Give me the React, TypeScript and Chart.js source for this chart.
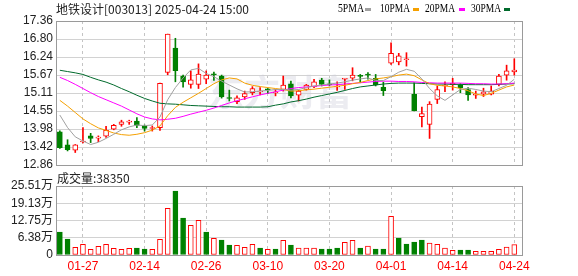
import React, { useEffect, useRef } from 'react';
import { Chart, registerables } from 'chart.js';

Chart.register(...registerables);

// ---------------- data ----------------
const stockTitle = '地铁设计[003013] 2025-04-24 15:00';

const dates = [
  '01-22', '01-23', '01-24', '01-27', '02-05', '02-06', '02-07', '02-10', '02-11', '02-12',
  '02-13', '02-14', '02-17', '02-18', '02-19', '02-20', '02-21', '02-24', '02-25', '02-26',
  '02-27', '02-28', '03-03', '03-04', '03-05', '03-06', '03-07', '03-10', '03-11', '03-12',
  '03-13', '03-14', '03-17', '03-18', '03-19', '03-20', '03-21', '03-24', '03-25', '03-26',
  '03-27', '03-28', '03-31', '04-01', '04-02', '04-03', '04-07', '04-08', '04-09', '04-10',
  '04-11', '04-14', '04-15', '04-16', '04-17', '04-18', '04-21', '04-22', '04-23', '04-24',
];

const xTickDates = ['01-27', '02-14', '02-26', '03-10', '03-20', '04-01', '04-14', '04-24'];

const opens = [
  13.90, 13.49, 13.32, 13.58, 13.77, 13.70, 13.76, 13.98, 14.13, 14.20,
  14.23, 14.08, 14.00, 14.03, 15.75, 16.51, 15.64, 15.38, 15.38, 15.54,
  15.71, 15.64, 14.97, 14.84, 14.99, 15.12, 15.14, 15.24, 15.11, 15.22,
  15.40, 15.04, 15.22, 15.30, 15.51, 15.40, 15.30, 15.54, 15.57, 15.66,
  15.70, 15.57, 15.29, 16.04, 16.08, 16.15, 15.07, 14.37, 14.13, 14.91,
  15.33, 15.37, 15.36, 15.22, 15.04, 15.07, 15.07, 15.38, 15.67, 15.77,
];
const highs = [
  13.93, 13.65, 13.50, 14.03, 13.85, 13.77, 14.07, 14.13, 14.26, 14.26,
  14.34, 14.11, 14.08, 15.42, 16.95, 16.82, 15.67, 15.80, 16.02, 15.80,
  15.76, 15.67, 15.20, 15.02, 15.17, 15.31, 15.28, 15.25, 15.22, 15.64,
  15.48, 15.20, 15.38, 15.54, 15.57, 15.52, 15.46, 15.57, 15.90, 15.69,
  15.75, 15.69, 15.45, 16.68, 16.35, 16.37, 15.43, 14.67, 14.84, 15.33,
  15.46, 15.57, 15.40, 15.28, 15.17, 15.26, 15.33, 15.69, 15.98, 16.18,
];
const lows = [
  13.38, 13.30, 13.25, 13.55, 13.56, 13.59, 13.72, 13.96, 14.07, 14.13,
  14.03, 13.92, 13.92, 13.94, 15.68, 15.46, 15.29, 15.26, 15.25, 15.40,
  15.50, 14.95, 14.86, 14.78, 14.91, 15.05, 15.05, 15.09, 15.02, 15.17,
  14.96, 14.86, 15.20, 15.28, 15.33, 15.33, 15.19, 15.22, 15.49, 15.43,
  15.54, 15.33, 15.03, 16.00, 15.99, 15.95, 14.55, 14.05, 13.69, 14.78,
  15.15, 15.20, 15.12, 14.88, 14.94, 15.00, 15.05, 15.33, 15.51, 15.67,
];
const closes = [
  13.40, 13.34, 13.49, 13.61, 13.69, 13.73, 13.94, 14.10, 14.21, 14.23,
  14.10, 14.00, 14.03, 15.41, 16.95, 15.81, 15.46, 15.52, 15.70, 15.67,
  15.68, 14.99, 14.94, 14.96, 15.09, 15.25, 15.17, 15.21, 15.14, 15.36,
  15.02, 15.17, 15.36, 15.46, 15.38, 15.36, 15.33, 15.57, 15.67, 15.63,
  15.67, 15.36, 15.18, 16.35, 16.27, 16.18, 14.56, 14.47, 14.76, 15.22,
  15.36, 15.41, 15.28, 15.05, 15.07, 15.15, 15.17, 15.64, 15.80, 15.83,
];

const ma5 = [
  14.42, 14.03, 13.74, 13.61, 13.50, 13.57, 13.69, 13.82, 13.96, 14.05,
  14.11, 14.09, 14.11, 14.36, 14.90, 15.28, 15.58, 15.83, 15.88, 15.72,
  15.62, 15.48, 15.36, 15.24, 15.14, 15.15, 15.17, 15.19, 15.22, 15.22,
  15.20, 15.22, 15.28, 15.33, 15.36, 15.39, 15.42, 15.46, 15.51, 15.55,
  15.58, 15.50, 15.50, 15.62, 15.76, 15.85, 15.79, 15.55, 15.25, 15.02,
  14.88, 15.05, 15.22, 15.26, 15.22, 15.17, 15.15, 15.25, 15.35, 15.54,
];
const ma10 = [
  14.88, 14.70, 14.50, 14.30, 14.15, 14.02, 13.94, 13.86, 13.81, 13.79,
  13.82, 13.87, 13.95, 14.08, 14.40, 14.66, 14.82, 14.96, 15.10, 15.25,
  15.40, 15.52, 15.58, 15.55, 15.42, 15.35, 15.31, 15.28, 15.25, 15.22,
  15.17, 15.18, 15.21, 15.23, 15.26, 15.29, 15.32, 15.35, 15.40, 15.44,
  15.50, 15.55, 15.58, 15.62, 15.67, 15.70, 15.65, 15.52, 15.40, 15.35,
  15.33, 15.30, 15.25, 15.18, 15.08, 15.03, 15.10, 15.20, 15.30, 15.36,
];
const ma20 = [
  15.60, 15.50, 15.38, 15.25, 15.12, 15.00, 14.90, 14.80, 14.70, 14.58,
  14.46, 14.36, 14.30, 14.27, 14.29, 14.32, 14.38, 14.45, 14.51, 14.57,
  14.64, 14.72, 14.80, 14.87, 14.93, 14.99, 15.05, 15.10, 15.15, 15.20,
  15.25, 15.28, 15.30, 15.32, 15.34, 15.36, 15.37, 15.39, 15.41, 15.43,
  15.45, 15.47, 15.48, 15.48, 15.47, 15.47, 15.46, 15.44, 15.43, 15.42,
  15.42, 15.42, 15.42, 15.41, 15.40, 15.40, 15.39, 15.39, 15.40, 15.42,
];
const ma30 = [
  15.82, 15.78, 15.74, 15.69, 15.60, 15.52, 15.45, 15.36, 15.25, 15.15,
  15.04, 14.94, 14.86, 14.79, 14.77, 14.76, 14.74, 14.72, 14.71, 14.70,
  14.69, 14.68, 14.68, 14.67, 14.67, 14.67, 14.67, 14.68, 14.73, 14.77,
  14.83, 14.87, 14.92, 14.98, 15.03, 15.08, 15.13, 15.19, 15.25, 15.30,
  15.33, 15.36, 15.39, 15.41, 15.42, 15.42, 15.42, 15.41, 15.40, 15.39,
  15.39, 15.38, 15.38, 15.37, 15.37, 15.37, 15.37, 15.38, 15.39, 15.40,
];

// volume in 万 (10,000 shares)
const volumes = [
  8.50, 5.92, 2.83, 3.94, 2.10, 3.20, 3.94, 2.46, 2.10, 2.46,
  2.59, 2.22, 2.10, 5.79, 17.25, 23.66, 13.68, 10.97, 12.82, 8.50,
  6.16, 5.55, 3.70, 3.57, 2.83, 3.94, 2.59, 2.10, 2.22, 5.42,
  3.70, 2.59, 2.59, 2.59, 2.22, 2.22, 2.59, 4.68, 5.42, 2.59,
  3.33, 2.22, 2.22, 14.30, 6.28, 4.07, 4.81, 5.55, 4.44, 3.94,
  2.59, 1.73, 1.85, 1.85, 1.36, 1.36, 1.36, 2.10, 2.96, 3.835,
];

const priceTickLabels = ['12.86', '13.42', '13.98', '14.55', '15.11', '15.67', '16.24', '16.80', '17.36'];
const priceMin = 12.86;
const priceMax = 17.36;
const volumeTickLabels = ['0', '6.38万', '12.75万', '19.13万', '25.51万'];
const volumeMax = 25.51;

const maNames = ['5PMA', '10PMA', '20PMA', '30PMA'];

// ---------------- styles ----------------
const UP = '#ff0000';
const DOWN = '#008000';
const MA_COLORS = ['#a0a0a0', '#f5a000', '#ff00ff', '#006a2c'];
const BORDER = '#9a9a9a';
const GRID = '#d2d2d2';
const VGRID = '#c4c4c4';
const TEXT = '#222222';
const SANS = '"Liberation Sans", Arial, "Noto Sans CJK SC", sans-serif';
const CJK = '"Noto Sans CJK SC", "Liberation Sans", sans-serif';

const candleUp = (i: number) => closes[i] >= opens[i];
const volUp = (i: number) => (i === 0 ? closes[0] >= opens[0] : closes[i] >= closes[i - 1]);
const xTickIndex = xTickDates.map((d) => dates.indexOf(d));

function xScale(showLabels: boolean): any {
  return {
    type: 'linear',
    min: -0.5,
    max: dates.length,
    offset: false,
    bounds: 'data',
    afterBuildTicks: (s: any) => {
      s.ticks = xTickIndex.map((v) => ({ value: v }));
    },
    afterFit: (s: any) => {
      s.height = showLabels ? 21 : 0;
    },
    grid: { color: VGRID, lineWidth: 1, drawTicks: false, offset: false },
    border: { display: false, dash: [3, 3] },
    ticks: showLabels
      ? {
          display: true,
          autoSkip: false,
          maxRotation: 0,
          padding: 4,
          color: UP,
          font: { family: SANS, size: 12 },
          callback: (v: number) => dates[Math.round(v)],
        }
      : { display: false },
  };
}

function yScale(min: number, max: number, labels: string[]): any {
  return {
    type: 'linear',
    min,
    max,
    bounds: 'data',
    beginAtZero: false,
    afterBuildTicks: (s: any) => {
      const n = labels.length - 1;
      s.ticks = labels.map((_, k) => ({ value: min + (k * (max - min)) / n }));
    },
    afterFit: (s: any) => {
      s.width = 56;
    },
    grid: { color: GRID, lineWidth: 1, drawTicks: false },
    border: { display: false },
    ticks: {
      autoSkip: false,
      padding: 3,
      color: TEXT,
      font: { family: SANS, size: 12 },
      callback: (_v: number, i: number) => labels[i],
    },
  };
}

const frame = (chart: any) => {
  const { ctx, chartArea: a } = chart;
  ctx.save();
  ctx.strokeStyle = BORDER;
  ctx.lineWidth = 1;
  ctx.strokeRect(Math.round(a.left) + 0.5, Math.round(a.top) + 0.5, Math.round(a.right - a.left), Math.round(a.bottom - a.top));
  ctx.restore();
};

const pricePlugin = {
  id: 'pricePlugin',
  beforeDatasetsDraw(chart: any) {
    const { ctx } = chart;
    ctx.save();
    ctx.fillStyle = 'rgba(205,205,218,0.38)';
    ctx.font = `bold 36px ${CJK}`;
    ctx.textBaseline = 'alphabetic';
    ctx.textAlign = 'left';
    ctx.fillText('东方财富', 208, 106, 170);
    ctx.restore();
  },
  afterDraw(chart: any) {
    const { ctx } = chart;
    frame(chart);
    ctx.save();
    ctx.fillStyle = TEXT;
    ctx.textBaseline = 'middle';
    ctx.textAlign = 'left';
    ctx.font = `12px ${CJK}`;
    ctx.fillText(stockTitle, 56, 9);
    // legend
    const textX = [338, 380, 425, 471];
    const textW = [26, 30, 30, 30];
    const swX = [365, 413, 459, 504];
    ctx.font = '13px "Liberation Serif", serif';
    maNames.forEach((name, k) => {
      ctx.fillStyle = '#000';
      ctx.fillText(name, textX[k], 9, textW[k]);
      ctx.fillStyle = MA_COLORS[k];
      ctx.fillRect(swX[k], 8, 6, 3);
    });
    ctx.restore();
  },
};

const volumePlugin = {
  id: 'volumePlugin',
  afterDraw(chart: any) {
    const { ctx } = chart;
    frame(chart);
    ctx.save();
    ctx.fillStyle = TEXT;
    ctx.textBaseline = 'middle';
    ctx.textAlign = 'left';
    ctx.font = `12px ${CJK}`;
    const last = Math.round(volumes[volumes.length - 1] * 10000);
    ctx.fillText('成交量:' + last, 57, 12);
    ctx.restore();
  },
};

function priceConfig(): any {
  const lineSet = (data: number[], k: number) => ({
    type: 'line',
    label: maNames[k],
    data: data.map((y, x) => ({ x, y })),
    borderColor: MA_COLORS[k],
    borderWidth: 1,
    pointRadius: 0,
    tension: 0,
    fill: false,
    order: 0,
  });
  return {
    type: 'bar',
    data: {
      datasets: [
        lineSet(ma5, 0),
        lineSet(ma10, 1),
        lineSet(ma20, 2),
        lineSet(ma30, 3),
        {
          type: 'bar',
          label: 'body',
          data: opens.map((o, i) => ({ x: i, y: [o, closes[i]] })),
          backgroundColor: opens.map((_, i) => (candleUp(i) ? '#ffffff' : DOWN)),
          borderColor: opens.map((_, i) => (candleUp(i) ? UP : DOWN)),
          borderWidth: 1,
          borderSkipped: false,
          grouped: false,
          barPercentage: 1,
          categoryPercentage: 1,
          maxBarThickness: 5,
          order: 1,
        },
        {
          type: 'bar',
          label: 'wick',
          data: lows.map((l, i) => ({ x: i, y: [l, highs[i]] })),
          backgroundColor: opens.map((_, i) => (candleUp(i) ? UP : DOWN)),
          borderWidth: 0,
          grouped: false,
          barPercentage: 1,
          categoryPercentage: 1,
          maxBarThickness: 1,
          order: 2,
        },
      ],
    },
    options: {
      responsive: false,
      maintainAspectRatio: false,
      animation: false,
      events: [],
      layout: { padding: { left: 0, right: 56, top: 21, bottom: 11 } },
      plugins: { legend: { display: false }, tooltip: { enabled: false }, title: { display: false } },
      scales: {
        x: xScale(false),
        y: yScale(priceMin, priceMax, priceTickLabels),
      },
    },
    plugins: [pricePlugin],
  };
}

function volumeConfig(): any {
  return {
    type: 'bar',
    data: {
      datasets: [
        {
          label: 'volume',
          data: volumes.map((v, i) => ({ x: i, y: v })),
          backgroundColor: volumes.map((_, i) => (volUp(i) ? '#ffffff' : DOWN)),
          borderColor: volumes.map((_, i) => (volUp(i) ? UP : DOWN)),
          borderWidth: 1,
          borderSkipped: false,
          grouped: false,
          barPercentage: 1,
          categoryPercentage: 1,
          maxBarThickness: 5,
        },
      ],
    },
    options: {
      responsive: false,
      maintainAspectRatio: false,
      animation: false,
      events: [],
      layout: { padding: { left: 0, right: 56, top: 20, bottom: 0 } },
      plugins: { legend: { display: false }, tooltip: { enabled: false }, title: { display: false } },
      scales: {
        x: xScale(true),
        y: yScale(0, volumeMax, volumeTickLabels),
      },
    },
    plugins: [volumePlugin],
  };
}

export default function App() {
  const priceRef = useRef<HTMLCanvasElement>(null);
  const volRef = useRef<HTMLCanvasElement>(null);

  useEffect(() => {
    const pc = new Chart(priceRef.current as HTMLCanvasElement, priceConfig());
    const vc = new Chart(volRef.current as HTMLCanvasElement, volumeConfig());
    return () => {
      pc.destroy();
      vc.destroy();
    };
  }, []);

  return (
    <div style={{ position: 'absolute', left: 0, top: 0, width: 578, height: 276, background: '#ffffff', overflow: 'hidden' }}>
      <canvas ref={priceRef} width={578} height={176} style={{ position: 'absolute', left: 0, top: 0, width: 578, height: 176 }} />
      <canvas ref={volRef} width={578} height={110} style={{ position: 'absolute', left: 0, top: 166, width: 578, height: 110 }} />
    </div>
  );
}
